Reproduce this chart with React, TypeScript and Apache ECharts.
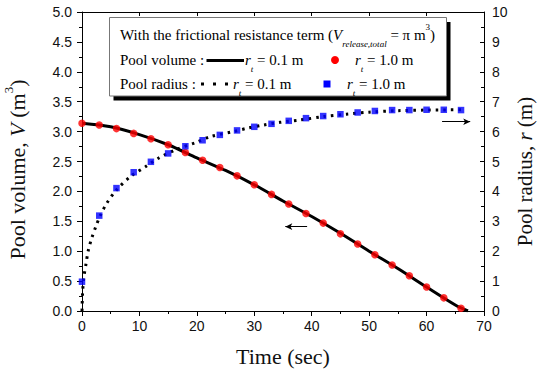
import React, { useEffect, useRef } from 'react';
import * as echarts from 'echarts';

// ---- Data ----
// Pool volume, r_t = 1.0 m (red circles)
const volTimes = [0, 3, 6, 9, 12, 15, 18, 21, 24, 27, 30, 33, 36, 39, 42, 45, 48, 51, 54, 57, 60, 63, 66];
const volumeRt10 = [3.14, 3.11, 3.05, 2.97, 2.88, 2.78, 2.65, 2.52, 2.40, 2.26, 2.11, 1.95, 1.79, 1.63, 1.47, 1.29, 1.12, 0.94, 0.77, 0.59, 0.40, 0.22, 0.045];
// Pool volume, r_t = 0.1 m (solid black line)
const volLineTimes = [0, 5, 10, 15, 20, 25, 30, 35, 40, 45, 50, 55, 60, 65, 67.2];
const volumeRt01 = [3.14, 3.08, 2.95, 2.78, 2.56, 2.35, 2.11, 1.84, 1.58, 1.30, 1.00, 0.71, 0.40, 0.10, 0];
// Pool radius, r_t = 1.0 m (blue squares)
const radTimes = [0, 3, 6, 9, 12, 15, 18, 21, 24, 27, 30, 33, 36, 39, 42, 45, 48, 51, 54, 57, 60, 63, 66];
const radiusRt10 = [0.98, 3.19, 4.11, 4.64, 4.99, 5.27, 5.51, 5.71, 5.89, 6.04, 6.16, 6.26, 6.36, 6.45, 6.52, 6.58, 6.64, 6.69, 6.72, 6.72, 6.73, 6.73, 6.72];
// Pool radius, r_t = 0.1 m (dotted black line)
const radLineTimes = [0, 0.1, 0.3, 0.7, 1.1, 1.7, 2.4, 3.2, 4.3, 6, 8.4, 11.1, 13.3, 16.5, 19.9, 22.3, 26.4, 28.7, 31.6, 34.5, 38, 42, 46, 50, 55, 60, 66.5];
const radiusRt01 = [0, 0.6, 1.1, 1.58, 2.03, 2.44, 2.82, 3.2, 3.6, 4.05, 4.49, 4.83, 5.11, 5.41, 5.64, 5.83, 6.0, 6.11, 6.22, 6.31, 6.39, 6.5, 6.58, 6.65, 6.7, 6.72, 6.73];

// Arrow annotations (data coordinates)
const volArrowTimes = [39.2, 35.4];
const volArrowValue = 1.41;
const radArrowTimes = [62.7, 67.6];
const radArrowValue = 6.33;

// Axis settings
const xRange = [0, 70];
const xStep = 10;
const vRange = [0, 5];
const vStep = 0.5;
const rRange = [0, 10];
const rStep = 1;

const SERIF = "'Liberation Serif', 'Times New Roman', serif";
const SANS = "'Liberation Sans', Arial, sans-serif";

const pairs = (xs: number[], ys: number[]) => xs.map((x, i) => [x, ys[i]]);

export default function App() {
  const ref = useRef<HTMLDivElement>(null);

  useEffect(() => {
    if (!ref.current) return;
    const chart = echarts.init(ref.current, undefined, { renderer: 'svg' });

    const axisLabel = { fontFamily: SANS, fontSize: 14, color: '#111' };
    const nameRichL = {
      n: { fontFamily: SERIF, fontSize: 22, color: '#111', lineHeight: 30, verticalAlign: 'middle' },
      i: { fontFamily: SERIF, fontSize: 22, color: '#111', fontStyle: 'italic', verticalAlign: 'middle' },
      p: { fontFamily: SERIF, fontSize: 13, color: '#111', verticalAlign: 'top' },
    };
    const nameRichR = {
      n: { fontFamily: SERIF, fontSize: 21, color: '#111', lineHeight: 22, verticalAlign: 'middle' },
      i: { fontFamily: SERIF, fontSize: 21, color: '#111', fontStyle: 'italic', verticalAlign: 'middle' },
    };

    const legRich = {
      n: { fontFamily: SERIF, fontSize: 15, fill: '#000', lineHeight: 26, verticalAlign: 'middle' },
      i: { fontFamily: SERIF, fontSize: 15, fill: '#000', fontStyle: 'italic', verticalAlign: 'middle' },
      s: { fontFamily: SERIF, fontSize: 9, fill: '#000', fontStyle: 'italic', verticalAlign: 'bottom' },
      p: { fontFamily: SERIF, fontSize: 9, fill: '#000', verticalAlign: 'top' },
    };
    const txt = (x: number, y: number, text: string) => ({
      type: 'text', x, y, z: 110,
      style: { text, rich: legRich, fill: '#000', align: 'left', verticalAlign: 'middle', font: `15px ${SERIF}` },
    });

    const option: any = {
      animation: false,
      backgroundColor: '#fff',
      grid: { left: 82, right: 53, top: 12, bottom: 63, containLabel: false, outerBoundsMode: 'none' },
      xAxis: [
        {
          type: 'value', position: 'bottom', min: xRange[0], max: xRange[1], interval: xStep,
          axisLine: { show: true, onZero: false, lineStyle: { color: '#000', width: 1 } },
          axisTick: { show: true, inside: false, length: 5, lineStyle: { color: '#000' } },
          minorTick: { show: true, splitNumber: 2, length: 3, lineStyle: { color: '#000' } },
          splitLine: { show: false },
          axisLabel: { ...axisLabel, margin: 8 },
          name: 'Time (sec)', nameLocation: 'middle', nameGap: 34,
          nameTextStyle: { fontFamily: SERIF, fontSize: 22, color: '#111' },
        },
        {
          type: 'value', position: 'top', min: xRange[0], max: xRange[1], interval: xStep,
          axisLine: { show: true, onZero: false, lineStyle: { color: '#000', width: 1 } },
          axisTick: { show: true, inside: true, length: 4, lineStyle: { color: '#000' } },
          minorTick: { show: false },
          splitLine: { show: false },
          axisLabel: { show: false },
        },
      ],
      yAxis: [
        {
          type: 'value', position: 'left', min: vRange[0], max: vRange[1], interval: vStep,
          axisLine: { show: true, onZero: false, lineStyle: { color: '#000', width: 1 } },
          axisTick: { show: true, inside: false, length: 5, lineStyle: { color: '#000' } },
          minorTick: { show: true, splitNumber: 2, length: 3, lineStyle: { color: '#000' } },
          splitLine: { show: false },
          axisLabel: { ...axisLabel, margin: 10, formatter: (v: number) => v.toFixed(1) },
          name: '{n|Pool volume, }{i|V}{n| (m}{p|3}{n|)}', nameLocation: 'middle', nameGap: 50,
          nameTextStyle: { fontFamily: SERIF, fontSize: 22, color: '#111', rich: nameRichL, padding: [0, 16, 0, 0] },
        },
        {
          type: 'value', position: 'right', min: rRange[0], max: rRange[1], interval: rStep,
          axisLine: { show: true, onZero: false, lineStyle: { color: '#000', width: 1 } },
          axisTick: { show: true, inside: true, length: 4, lineStyle: { color: '#000' } },
          minorTick: { show: true, splitNumber: 2, length: 3, lineStyle: { color: '#000' } },
          splitLine: { show: false },
          axisLabel: { ...axisLabel, margin: 8 },
          name: '{n|Pool radius, }{i|r}{n| (m)}', nameLocation: 'middle', nameGap: 30,
          nameMoveOverlap: false,
          nameTextStyle: { fontFamily: SERIF, fontSize: 21, color: '#111', rich: nameRichR, padding: [0, 20, 0, 0] },
        },
      ],
      series: [
        {
          name: 'Pool volume r_t=0.1', type: 'line', xAxisIndex: 0, yAxisIndex: 0,
          data: pairs(volLineTimes, volumeRt01), smooth: 0.3, showSymbol: false,
          lineStyle: { color: '#000', width: 3 }, z: 2,
          markLine: {
            silent: true, symbol: ['none', 'arrow'], symbolSize: [5, 7],
            label: { show: false },
            lineStyle: { color: '#000', width: 1, type: 'solid' },
            data: [[{ coord: [volArrowTimes[0], volArrowValue] }, { coord: [volArrowTimes[1], volArrowValue] }]],
          },
        },
        {
          name: 'Pool volume r_t=1.0', type: 'scatter', xAxisIndex: 0, yAxisIndex: 0,
          data: pairs(volTimes, volumeRt10), symbol: 'circle', symbolSize: 7.5,
          itemStyle: { color: '#ff0000' }, z: 4,
        },
        {
          name: 'Pool radius r_t=0.1', type: 'line', xAxisIndex: 0, yAxisIndex: 1,
          data: pairs(radLineTimes, radiusRt01), smooth: 0.3, showSymbol: false,
          lineStyle: { color: '#000', width: 3, type: [2.5, 5] }, z: 2,
          markLine: {
            silent: true, symbol: ['none', 'arrow'], symbolSize: [5, 7],
            label: { show: false },
            lineStyle: { color: '#000', width: 1, type: 'solid' },
            data: [[{ coord: [radArrowTimes[0], radArrowValue] }, { coord: [radArrowTimes[1], radArrowValue] }]],
          },
        },
        {
          name: 'Pool radius r_t=1.0', type: 'scatter', xAxisIndex: 0, yAxisIndex: 1,
          data: pairs(radTimes, radiusRt10), symbol: 'rect', symbolSize: 6.5,
          itemStyle: { color: '#0000ff' }, z: 4,
        },
      ],
      graphic: [
        // legend shadow and box
        { type: 'rect', z: 100, shape: { x: 113.5, y: 22, width: 337, height: 78.5 }, style: { fill: '#000' } },
        { type: 'rect', z: 101, shape: { x: 109.5, y: 17.5, width: 337, height: 78.5 }, style: { fill: '#fff', stroke: '#777', lineWidth: 1 } },
        txt(120, 35, '{n|With the frictional resistance term (}{i|V}{s|release,total}{n| = π m}{p|3}{n|)}'),
        txt(120, 60, '{n|Pool volume :}'),
        { type: 'line', z: 110, shape: { x1: 206.5, y1: 60.5, x2: 244, y2: 60.5 }, style: { stroke: '#000', lineWidth: 3 } },
        txt(245, 60, '{i|r}{s|t}{n| = 0.1 m}'),
        { type: 'circle', z: 110, shape: { cx: 335, cy: 60, r: 4 }, style: { fill: '#ff0000' } },
        txt(355, 60, '{i|r}{s|t}{n| = 1.0 m}'),
        txt(120, 84, '{n|Pool radius :}'),
        { type: 'line', z: 110, shape: { x1: 201, y1: 84, x2: 228, y2: 84 }, style: { stroke: '#000', lineWidth: 3, lineDash: [3, 9] } },
        txt(233, 84, '{i|r}{s|t}{n| = 0.1 m}'),
        { type: 'rect', z: 110, shape: { x: 323.5, y: 80.5, width: 7, height: 7 }, style: { fill: '#0000ff' } },
        txt(347, 84, '{i|r}{s|t}{n| = 1.0 m}'),
      ],
    };

    chart.setOption(option);
    return () => chart.dispose();
  }, []);

  return (
    <div
      ref={ref}
      style={{ position: 'absolute', left: 0, top: 0, width: 537, height: 374, background: '#fff' }}
    />
  );
}
